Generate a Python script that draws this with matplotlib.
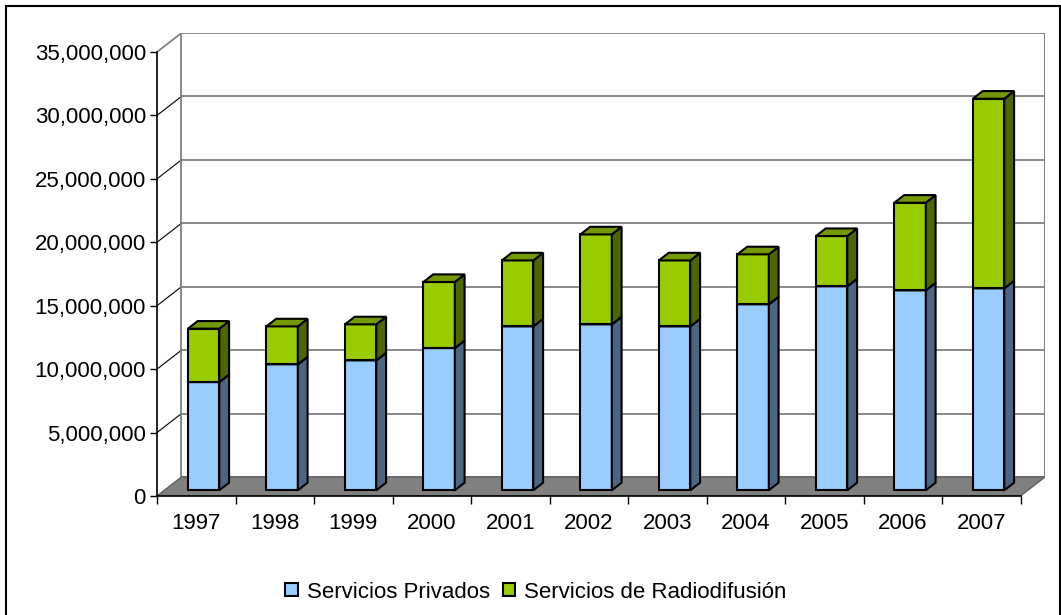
import matplotlib
matplotlib.use("Agg")
import matplotlib.pyplot as plt
from matplotlib.patches import Polygon, Patch, Rectangle

plt.rcParams["font.family"] = ["Liberation Sans", "DejaVu Sans"]

years = ["1997", "1998", "1999", "2000", "2001", "2002", "2003", "2004", "2005", "2006", "2007"]
privados = [8.53e6, 9.93e6, 10.24e6, 11.21e6, 12.92e6, 13.08e6, 12.92e6, 14.66e6, 16.08e6, 15.76e6, 15.92e6]
radiodifusion = [4.21e6, 2.99e6, 2.84e6, 5.21e6, 5.20e6, 7.09e6, 5.20e6, 3.94e6, 3.96e6, 6.91e6, 14.95e6]
y_ticks = [0, 5e6, 10e6, 15e6, 20e6, 25e6, 30e6, 35e6]
labels = ["Servicios Privados", "Servicios de Radiodifusión"]

# colours (front, side, top)
BLUE = ("#99ccff", "#4d6582", "#7aa3cc")
GREEN = ("#99cc00", "#4d6600", "#739900")
WALL = "#808080"

# fake 3d: depth offset in data units
DX = 0.312
DY = 1.5e6
BAR_W = 0.4
F0, FD = 0.3, 0.4   # bar position / depth as fraction of full depth

W, H = 1061, 615
fig = plt.figure(figsize=(W / 100, H / 100), dpi=100)
px_per_val = 444 / 35e6
left_px, bottom_px = 157, 496
ax_w = 78.5 * (11 + DX)
ax_h = (35e6 + DY) * px_per_val
ax = fig.add_axes([left_px / W, (H - bottom_px) / H, ax_w / W, ax_h / H])
ax.set_xlim(-0.5, 10.5 + DX)
ax.set_ylim(0, 35e6 + DY)

# floor
ax.add_patch(Polygon([(-0.5, 0), (10.5, 0), (10.5 + DX, DY), (-0.5 + DX, DY)],
                     closed=True, facecolor=WALL, edgecolor="#606060", lw=1, zorder=1))
# back wall gridlines + left wall diagonals
for v in y_ticks:
    ax.plot([-0.5 + DX, 10.5 + DX], [v + DY, v + DY], color=WALL, lw=1.3, zorder=0.5)
    if 0 < v < 35e6:
        ax.plot([-0.5, -0.5 + DX], [v, v + DY], color="black", lw=0.8, zorder=0.5)
ax.plot([-0.5, -0.5 + DX], [35e6, 35e6 + DY], color=WALL, lw=1.3, zorder=0.5)
ax.plot([-0.5 + DX] * 2, [DY, 35e6 + DY], color=WALL, lw=1.3, zorder=0.5)
ax.plot([10.5 + DX] * 2, [DY, 35e6 + DY], color=WALL, lw=1.5, zorder=0.5)

x = list(range(len(years)))
xf = [k + F0 * DX for k in x]
base = F0 * DY
ddx, ddy = FD * DX, FD * DY


def box(xs, bottoms, heights, cols, z):
    ax.bar(xs, heights, BAR_W, bottom=[b + base for b in bottoms], color=cols[0],
           edgecolor="black", lw=1.5, zorder=z)
    for xc, b, h in zip(xs, bottoms, heights):
        xl, xr = xc - BAR_W / 2, xc + BAR_W / 2
        y0, y1 = b + base, b + base + h
        ax.add_patch(Polygon([(xr, y0), (xr + ddx, y0 + ddy), (xr + ddx, y1 + ddy), (xr, y1)],
                             closed=True, facecolor=cols[1], edgecolor="black", lw=1.5, zorder=z))
        ax.add_patch(Polygon([(xl, y1), (xr, y1), (xr + ddx, y1 + ddy), (xl + ddx, y1 + ddy)],
                             closed=True, facecolor=cols[2], edgecolor="black", lw=1.5, zorder=z))


box(xf, [0] * len(x), privados, BLUE, 3)
box(xf, privados, radiodifusion, GREEN, 4)

for s in ("top", "right"):
    ax.spines[s].set_visible(False)
ax.spines["left"].set_bounds(0, 35e6)
ax.spines["bottom"].set_bounds(-0.5, 10.5)
for s in ("left", "bottom"):
    ax.spines[s].set_linewidth(1.2)
    ax.spines[s].set_zorder(5)

ax.set_yticks(y_ticks)
ax.set_yticklabels([f"{int(v):,}" for v in y_ticks], fontsize=16)
ax.tick_params(axis="y", length=5, width=1, pad=3)
ax.set_xticks(x)
ax.set_xticklabels(years, fontsize=16)
ax.set_xticks([k - 0.5 for k in range(12)], minor=True)
ax.tick_params(axis="x", which="major", length=0, pad=12)
ax.tick_params(axis="x", which="minor", length=6, width=1)

handles = [Patch(facecolor=BLUE[0], edgecolor="black", lw=1.5),
           Patch(facecolor=GREEN[0], edgecolor="black", lw=1.5)]
fig.legend(handles, labels, loc="center", bbox_to_anchor=(536 / W, 23 / H), ncol=2,
           frameon=False, fontsize=16, handlelength=0.55, handleheight=0.55,
           handletextpad=0.4, columnspacing=0.6)

fig.add_artist(Rectangle((6 / W, -0.05), 1054 / W, (609 / H) + 0.05, transform=fig.transFigure,
                         fill=False, edgecolor="black", lw=1.5))

fig.savefig("out.png", dpi=100)
